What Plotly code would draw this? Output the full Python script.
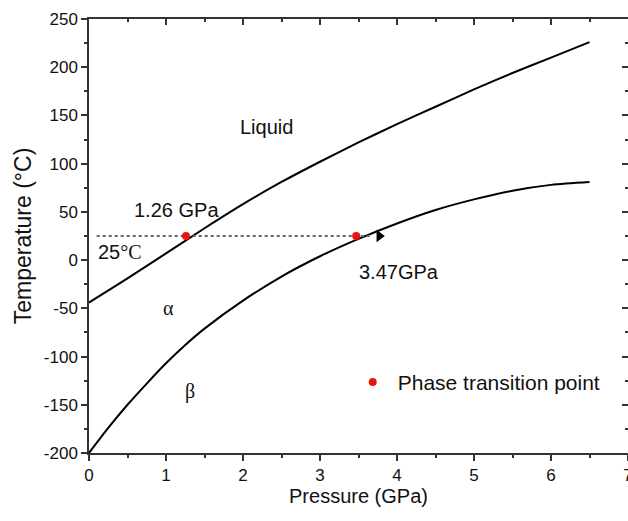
import plotly.graph_objects as go

# Melting curve (liquid / alpha boundary), pressure in GPa, temperature in °C
melt_p = [0, 0.5, 1, 1.5, 2, 2.5, 3, 3.5, 4, 4.5, 5, 5.5, 6, 6.5]
melt_t = [-44, -19, 7, 33, 58, 81, 102, 122, 141, 159, 177, 194, 210, 226]

# Alpha / beta phase boundary
ab_p = [0, 0.25, 0.5, 0.75, 1, 1.25, 1.5, 2, 2.5, 3, 3.5, 4, 4.5, 5, 5.5, 6, 6.5]
ab_t = [-200, -174, -150, -128, -107, -88, -71, -42, -17, 4, 22, 38, 52, 63, 72, 78, 81]

# Phase transition points on the 25 °C isotherm
trans_p = [1.26, 3.47]
trans_t = [25, 25]
isotherm_t = 25

# Axis ticks
x_ticks = [0, 1, 2, 3, 4, 5, 6, 7]
x_labels = ["0", "1", "2", "3", "4", "5", "6", "7"]
y_ticks = [-200, -150, -100, -50, 0, 50, 100, 150, 200, 250]
y_labels = ["-200", "-150", "-100", "-50", "0", "50", "100", "150", "200", "250"]

SANS = "Liberation Sans, Arial, sans-serif"
SERIF = "Liberation Serif, Times New Roman, serif"
AXIS_COLOR = "#333333"
TEXT_COLOR = "#111111"

fig = go.Figure()

fig.add_trace(go.Scatter(x=melt_p, y=melt_t, mode="lines",
                         line=dict(color="black", width=2, shape="spline", smoothing=0.8),
                         showlegend=False, hoverinfo="skip"))
fig.add_trace(go.Scatter(x=ab_p, y=ab_t, mode="lines",
                         line=dict(color="black", width=2, shape="spline", smoothing=0.8),
                         showlegend=False, hoverinfo="skip"))

# Dotted isotherm with arrow head
fig.add_trace(go.Scatter(x=[0.1, 3.68], y=[isotherm_t, isotherm_t], mode="lines",
                         line=dict(color="#666666", width=2, dash="dot"), showlegend=False, hoverinfo="skip"))
fig.add_trace(go.Scatter(x=[3.77], y=[isotherm_t], mode="markers",
                         marker=dict(symbol="triangle-right", size=11, color="black"),
                         showlegend=False, hoverinfo="skip"))

fig.add_trace(go.Scatter(x=trans_p, y=trans_t, mode="markers", name="Phase transition point",
                         marker=dict(color="#ee1111", size=8)))

# Invisible trace to carry the mirrored top/right axes
fig.add_trace(go.Scatter(x=[0], y=[0], xaxis="x2", yaxis="y2", mode="markers",
                         marker=dict(opacity=0), showlegend=False, hoverinfo="skip"))

ann = dict(showarrow=False, font=dict(family=SANS, size=20, color=TEXT_COLOR))
fig.add_annotation(x=2.3, y=138, text="Liquid", **ann)
fig.add_annotation(x=1.14, y=52, text="1.26 GPa", **ann)
fig.add_annotation(x=0.4, y=8, text="25<span style='font-family:Liberation Serif'>°C</span>", **ann)
fig.add_annotation(x=4.03, y=-12, text="3.47GPa", **ann)
fig.add_annotation(x=1.03, y=-50, text="α", showarrow=False, font=dict(family=SERIF, size=20, color=TEXT_COLOR))
fig.add_annotation(x=1.31, y=-136, text="β", showarrow=False, font=dict(family=SERIF, size=20, color=TEXT_COLOR))

axis_common = dict(showline=True, linecolor=AXIS_COLOR, linewidth=1.5, showgrid=False, zeroline=False,
                   tickcolor=AXIS_COLOR, tickwidth=1.5, ticklen=6, ticklabeloverflow="allow",
                   automargin=False, tickfont=dict(family=SANS, size=17, color=TEXT_COLOR))

fig.update_layout(
    width=628, height=521,
    margin=dict(l=89, r=0, t=19, b=68, autoexpand=False),
    paper_bgcolor="white", plot_bgcolor="white",
    font=dict(family=SANS, color=TEXT_COLOR),
    xaxis=dict(range=[0, 7], tickvals=x_ticks, ticktext=x_labels, ticks="outside",
               minor=dict(dtick=0.5, tick0=0, ticks="outside", ticklen=3.5, tickcolor=AXIS_COLOR, tickwidth=1.5),
               title=dict(text="Pressure (GPa)", font=dict(family=SANS, size=20, color=TEXT_COLOR), standoff=5),
               **axis_common),
    yaxis=dict(range=[-200, 250], tickvals=y_ticks, ticktext=y_labels, ticks="outside",
               minor=dict(dtick=25, tick0=0, ticks="outside", ticklen=3.5, tickcolor=AXIS_COLOR, tickwidth=1.5),
               title=dict(text="Temperature (°C)", font=dict(family=SANS, size=23, color=TEXT_COLOR), standoff=6),
               **axis_common),
    xaxis2=dict(range=[0, 7], overlaying="x", side="top", tickvals=x_ticks, ticks="inside", showticklabels=False,
                minor=dict(dtick=0.5, tick0=0, ticks="inside", ticklen=3.5, tickcolor=AXIS_COLOR, tickwidth=1.5),
                **axis_common),
    yaxis2=dict(range=[-200, 250], overlaying="y", side="right", tickvals=y_ticks, ticks="inside",
                showticklabels=False,
                minor=dict(dtick=25, tick0=0, ticks="inside", ticklen=3.5, tickcolor=AXIS_COLOR, tickwidth=1.5),
                **axis_common),
    legend=dict(x=0.48, y=0.163, xanchor="left", yanchor="middle", bgcolor="rgba(0,0,0,0)",
                font=dict(family=SANS, size=21, color=TEXT_COLOR), itemwidth=40),
    showlegend=True,
)

fig.write_html("out.html")
